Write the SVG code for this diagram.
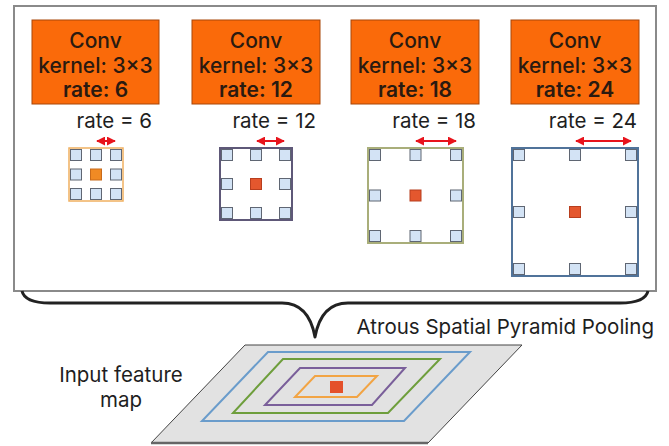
<svg xmlns="http://www.w3.org/2000/svg" width="669" height="446" viewBox="0 0 669 446">
  <style>
    .conv { fill: #FA6A0A; stroke: #A84608; stroke-width: 1; }
    .ct { font-family: Inter, "Liberation Sans", sans-serif; font-size: 21px; fill: #2A1A10; text-anchor: middle; font-weight: 500; }
    .bold { font-weight: 600; }
    .lbl { font-family: Inter, "Liberation Sans", sans-serif; font-size: 20.5px; fill: #1E1E1E; }
    .cell { fill: #D3E3F5; stroke: #5F6673; stroke-width: 1; }
    .dot1 { fill: #F08A24; stroke: #C86A1A; stroke-width: 1; }
    .dot { fill: #E4572E; stroke: #B83E1E; stroke-width: 1; }
    .span { stroke: #E8141C; stroke-width: 2; fill: none; marker-start: url(#hd); marker-end: url(#hd); }
  </style>
  <defs>
    <marker id="hd" viewBox="0 0 10 10" refX="9" refY="5" markerWidth="4.5" markerHeight="4.5" orient="auto-start-reverse">
      <path d="M0,0 L10,5 L0,10 z" fill="#E8141C"/>
    </marker>
  </defs>

  <rect width="669" height="446" fill="#FFFFFF"/>

  <!-- ASPP frame -->
  <g id="aspp">
    <rect x="14" y="6" width="642" height="285" fill="#FFFFFF" stroke="#8A8A8A" stroke-width="2"/>
  </g>

  <!-- Conv branches -->
  <g id="conv6">
    <rect class="conv" x="32" y="20" width="127" height="84"/>
    <text class="ct" x="95.5" y="48">Conv</text>
    <text class="ct" x="95.5" y="73">kernel: 3×3</text>
    <text class="ct bold" x="95.5" y="97">rate: 6</text>
  </g>
  <g id="conv12">
    <rect class="conv" x="192" y="20" width="128" height="84"/>
    <text class="ct" x="256" y="48">Conv</text>
    <text class="ct" x="256" y="73">kernel: 3×3</text>
    <text class="ct bold" x="256" y="97">rate: 12</text>
  </g>
  <g id="conv18">
    <rect class="conv" x="351" y="20" width="128" height="84"/>
    <text class="ct" x="415" y="48">Conv</text>
    <text class="ct" x="415" y="73">kernel: 3×3</text>
    <text class="ct bold" x="415" y="97">rate: 18</text>
  </g>
  <g id="conv24">
    <rect class="conv" x="511" y="20" width="128" height="84"/>
    <text class="ct" x="575" y="48">Conv</text>
    <text class="ct" x="575" y="73">kernel: 3×3</text>
    <text class="ct bold" x="575" y="97">rate: 24</text>
  </g>

  <!-- rate labels -->
  <g id="rates">
    <text class="lbl" x="152" y="128" text-anchor="end">rate = 6</text>
    <text class="lbl" x="316" y="128" text-anchor="end">rate = 12</text>
    <text class="lbl" x="476" y="128" text-anchor="end">rate = 18</text>
    <text class="lbl" x="637" y="128" text-anchor="end">rate = 24</text>
  </g>

  <!-- dilation spans -->
  <g id="connectors">
    <line class="span" x1="97" y1="141" x2="115" y2="141"/>
    <line class="span" x1="257" y1="141" x2="284" y2="141"/>
    <line class="span" x1="416" y1="141" x2="456" y2="141"/>
    <line class="span" x1="576" y1="141" x2="631" y2="141"/>
    <!-- brace joining the branches to the input -->
    <path d="M22,291 C24,300 34,303 50,303 L282,303 C300,303 311,315 315,337 C319,315 330,303 348,303 L620,303 C636,303 646,300 648,291" fill="none" stroke="#222222" stroke-width="3" stroke-linejoin="round"/>
  </g>

  <!-- sampling grids -->
  <g id="grid6">
    <rect x="69" y="148" width="54" height="53" fill="none" stroke="#F0B060" stroke-width="1.5"/>
    <rect class="cell" x="70.5" y="149.5" width="11" height="11"/>
    <rect class="cell" x="90.5" y="149.5" width="11" height="11"/>
    <rect class="cell" x="110.5" y="149.5" width="11" height="11"/>
    <rect class="cell" x="70.5" y="169" width="11" height="11"/>
    <rect class="dot1" x="90.5" y="169" width="11" height="11"/>
    <rect class="cell" x="110.5" y="169" width="11" height="11"/>
    <rect class="cell" x="70.5" y="188.5" width="11" height="11"/>
    <rect class="cell" x="90.5" y="188.5" width="11" height="11"/>
    <rect class="cell" x="110.5" y="188.5" width="11" height="11"/>
  </g>
  <g id="grid12">
    <rect x="220" y="148" width="72" height="72" fill="none" stroke="#5E5878" stroke-width="2"/>
    <rect class="cell" x="221.5" y="149.5" width="11" height="11"/>
    <rect class="cell" x="250.5" y="149.5" width="11" height="11"/>
    <rect class="cell" x="279.5" y="149.5" width="11" height="11"/>
    <rect class="cell" x="221.5" y="178.5" width="11" height="11"/>
    <rect class="dot" x="250.5" y="178.5" width="11" height="11"/>
    <rect class="cell" x="279.5" y="178.5" width="11" height="11"/>
    <rect class="cell" x="221.5" y="207.5" width="11" height="11"/>
    <rect class="cell" x="250.5" y="207.5" width="11" height="11"/>
    <rect class="cell" x="279.5" y="207.5" width="11" height="11"/>
  </g>
  <g id="grid18">
    <rect x="368" y="148" width="95" height="95" fill="none" stroke="#A9AE7A" stroke-width="2"/>
    <rect class="cell" x="369.5" y="149.5" width="11" height="11"/>
    <rect class="cell" x="410" y="149.5" width="11" height="11"/>
    <rect class="cell" x="450.5" y="149.5" width="11" height="11"/>
    <rect class="cell" x="369.5" y="190" width="11" height="11"/>
    <rect class="dot" x="410" y="190" width="11" height="11"/>
    <rect class="cell" x="450.5" y="190" width="11" height="11"/>
    <rect class="cell" x="369.5" y="230.5" width="11" height="11"/>
    <rect class="cell" x="410" y="230.5" width="11" height="11"/>
    <rect class="cell" x="450.5" y="230.5" width="11" height="11"/>
  </g>
  <g id="grid24">
    <rect x="512" y="148" width="126" height="128" fill="none" stroke="#50739A" stroke-width="2"/>
    <rect class="cell" x="513.5" y="149.5" width="11" height="11"/>
    <rect class="cell" x="569.5" y="149.5" width="11" height="11"/>
    <rect class="cell" x="625.5" y="149.5" width="11" height="11"/>
    <rect class="cell" x="513.5" y="206.5" width="11" height="11"/>
    <rect class="dot" x="569.5" y="206.5" width="11" height="11"/>
    <rect class="cell" x="625.5" y="206.5" width="11" height="11"/>
    <rect class="cell" x="513.5" y="263.5" width="11" height="11"/>
    <rect class="cell" x="569.5" y="263.5" width="11" height="11"/>
    <rect class="cell" x="625.5" y="263.5" width="11" height="11"/>
  </g>

  <text class="lbl" x="654" y="334" text-anchor="end">Atrous Spatial Pyramid Pooling</text>

  <!-- input feature map -->
  <g id="input">
    <polygon points="245,345 522,345 428,443 151,443" fill="#E2E2E2" stroke="#444444" stroke-width="1"/>
    <line x1="151" y1="443" x2="428" y2="443" stroke="#666666" stroke-width="2.5"/>
    <polygon points="268,352 470,352 404,421 202,421" fill="none" stroke="#6A9CCB" stroke-width="2"/>
    <polygon points="283,359 440,359 388,413 233,413" fill="none" stroke="#6E9E3C" stroke-width="2"/>
    <polygon points="300,368 405,368 372,405 265,405" fill="none" stroke="#7A5F9A" stroke-width="2"/>
    <polygon points="315,376 377,376 357,397 295,397" fill="none" stroke="#F2A444" stroke-width="2"/>
    <rect x="330" y="381" width="13" height="12" fill="#E4502A"/>
    <text class="lbl" x="121" y="382" text-anchor="middle">Input feature</text>
    <text class="lbl" x="121" y="407" text-anchor="middle">map</text>
  </g>
</svg>
